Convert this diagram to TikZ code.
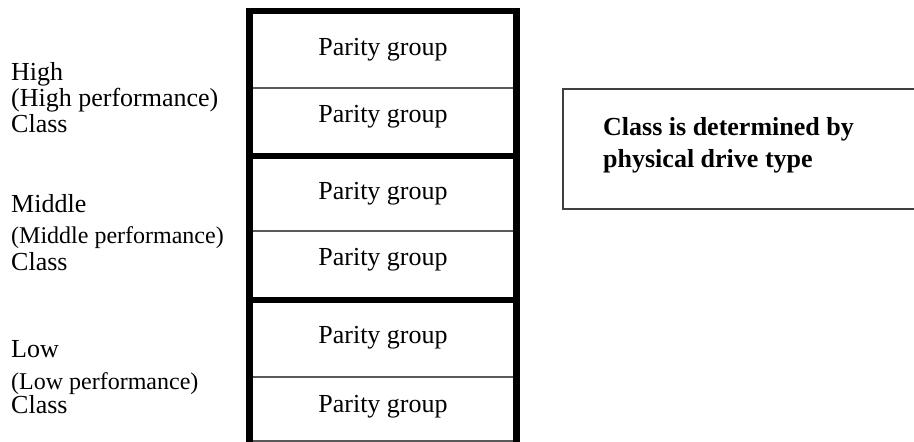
\documentclass[tikz,border=0pt]{standalone}
\usepackage{fontspec}
\setmainfont{Liberation Serif}
\begin{document}
\begin{tikzpicture}[x=1pt,y=-1pt,
  frame/.style={line width=6.5pt, line join=miter},
  divthin/.style={line width=1.5pt, draw=black!65},
  notebox/.style={line width=1.5pt, draw=black!75},
  celltext/.style={font=\fontsize{26}{30}\selectfont, anchor=base, inner sep=0pt},
  lbl/.style={font=\fontsize{26}{30}\selectfont, anchor=base west, inner sep=0pt},
  lblsmall/.style={font=\fontsize{24}{28}\selectfont, anchor=base west, inner sep=0pt},
  notetext/.style={font=\fontsize{26}{30}\selectfont\bfseries, anchor=base west, inner sep=0pt}]
\useasboundingbox (0,0) rectangle (914,442);
\clip (0,0) rectangle (914,442);
% stack frame
\coordinate (tl) at (249.5,11);
\coordinate (tr) at (516.5,11);
\coordinate (bl) at (249.5,460);
\coordinate (br) at (516.5,460);
\draw[divthin] (249.5,88) -- (516.5,88);
\draw[divthin] (249.5,231) -- (516.5,231);
\draw[divthin] (249.5,377) -- (516.5,377);
\draw[divthin] (249.5,441) -- (516.5,441);
\draw[frame] (249.5,156) -- (516.5,156);
\draw[frame] (249.5,300) -- (516.5,300);
\draw[frame] (bl) -- (tl) -- (tr) -- (br);
% cell texts
\node[celltext] (p1) at (383,55) {Parity group};
\node[celltext] (p2) at (383,122) {Parity group};
\node[celltext] (p3) at (383,199) {Parity group};
\node[celltext] (p4) at (383,265) {Parity group};
\node[celltext] (p5) at (383,343) {Parity group};
\node[celltext] (p6) at (383,412) {Parity group};
% left labels
\node[lbl] (h1) at (11,80) {High};
\node[lbl] (h2) at (11,106) {(High performance)};
\node[lbl] (h3) at (11,132) {Class};
\node[lbl] (m1) at (11,212) {Middle};
\node[lblsmall] (m2) at (11,243) {(Middle performance)};
\node[lbl] (m3) at (11,270) {Class};
\node[lbl] (l1) at (11,357) {Low};
\node[lblsmall] (l2) at (11,389) {(Low performance)};
\node[lbl] (l3) at (11,413) {Class};
% note box
\draw[notebox] (563,89) rectangle (940,209);
\node[notetext] (n1) at (603,135) {Class is determined by};
\node[notetext] (n2) at (603,167) {physical drive type};
\end{tikzpicture}
\end{document}
